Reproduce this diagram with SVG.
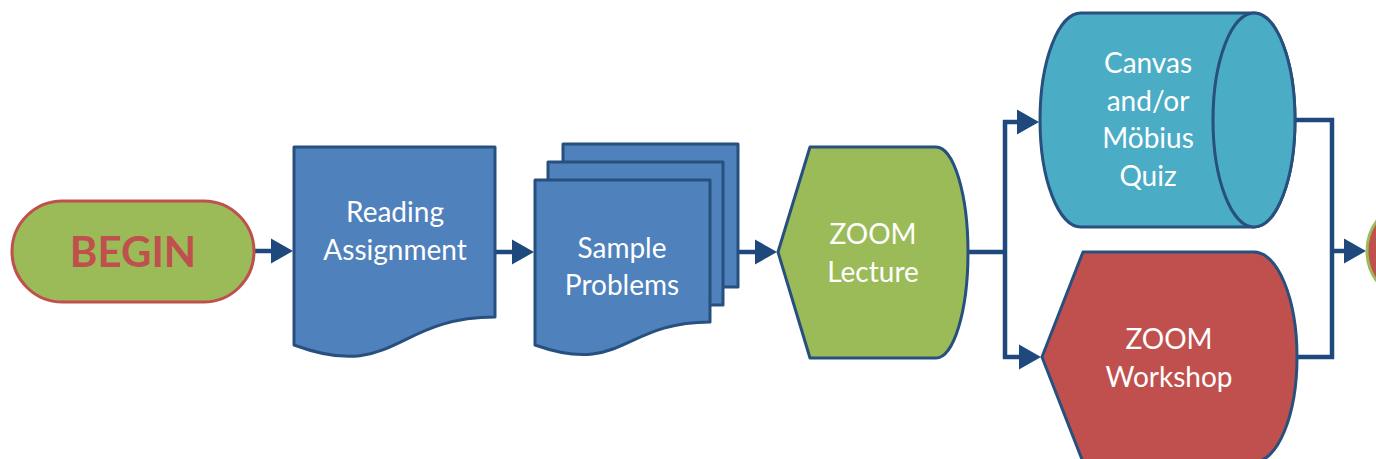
<svg xmlns="http://www.w3.org/2000/svg" width="1376" height="459" viewBox="0 0 1376 459">
<style>
.lbl{font-family:Lato,"Liberation Sans",sans-serif;font-size:28px;fill:#ffffff;text-anchor:middle}
.shp{stroke:#27507f;stroke-width:3;stroke-linejoin:round}
.doc{fill:#4f81bd}
.conn{fill:none;stroke:#1f497d;stroke-width:4.5}
</style>
<defs>
<marker id="ah" markerUnits="userSpaceOnUse" markerWidth="24" markerHeight="26" refX="12" refY="12.5" orient="auto" overflow="visible">
<path d="M0,0 L22,12.5 L0,25 Z" fill="#1f497d"/>
</marker>
</defs>
<rect width="1376" height="459" fill="#ffffff"/>
<g id="connectors">
<path class="conn" d="M255,251 H283" marker-end="url(#ah)"/>
<path class="conn" d="M495,252 H524" marker-end="url(#ah)"/>
<path class="conn" d="M738,252 H767" marker-end="url(#ah)"/>
<path class="conn" d="M968,252 H1005 M1005,120 V359"/>
<path class="conn" d="M1003,122 H1029" marker-end="url(#ah)"/>
<path class="conn" d="M1003,357 H1031" marker-end="url(#ah)"/>
<path class="conn" d="M1295,120 H1332 V359 M1297,357 H1334"/>
<path class="conn" d="M1332,251 H1356" marker-end="url(#ah)"/>
</g>
<g id="begin">
<rect x="12" y="201" width="242" height="101" rx="50.5" fill="#9bbb59" stroke="#c0504d" stroke-width="3"/>
<text x="133" y="267" style="font-family:Lato,'Liberation Sans',sans-serif;font-size:42px;font-weight:bold;fill:#c0504d;text-anchor:middle">BEGIN</text>
</g>
<g id="reading">
<path class="shp doc" d="M294,147 H495 V317 C394.5,317 394.5,382 294,345 Z"/>
<text class="lbl" x="395" y="222">Reading</text>
<text class="lbl" x="395" y="260">Assignment</text>
</g>
<g id="sample">
<rect class="shp doc" x="563" y="144" width="175" height="143"/>
<rect class="shp doc" x="548" y="162" width="175" height="143"/>
<path class="shp doc" d="M535,180 H710 V322 C622.5,322 622.5,376 535,345 Z"/>
<text class="lbl" x="622" y="258">Sample</text>
<text class="lbl" x="622" y="295">Problems</text>
</g>
<g id="lecture">
<path class="shp" fill="#9bbb59" d="M778,252 L810,147 H936 A32,105.5 0 0 1 936,358 H810 Z"/>
<text class="lbl" x="873" y="244">ZOOM</text>
<text class="lbl" x="873" y="282">Lecture</text>
</g>
<g id="quiz">
<path class="shp" fill="#4bacc6" d="M1081,13 H1254 A41,107 0 0 1 1254,227 H1081 A41,107 0 0 1 1081,13 Z"/>
<ellipse class="shp" fill="#4bacc6" cx="1254" cy="120" rx="41" ry="107"/>
<text class="lbl" x="1148" y="73">Canvas</text>
<text class="lbl" x="1148" y="111">and/or</text>
<text class="lbl" x="1148" y="148">Möbius</text>
<text class="lbl" x="1148" y="186">Quiz</text>
</g>
<g id="workshop">
<path class="shp" fill="#c0504d" d="M1042,357 L1083,252 H1254 A43,105 0 0 1 1254,462 H1083 Z"/>
<text class="lbl" x="1169" y="349">ZOOM</text>
<text class="lbl" x="1169" y="387">Workshop</text>
</g>
<g id="end">
<rect x="1367" y="200" width="200" height="102" rx="51" fill="#c0504d" stroke="#9bbb59" stroke-width="3"/>
</g>
</svg>
